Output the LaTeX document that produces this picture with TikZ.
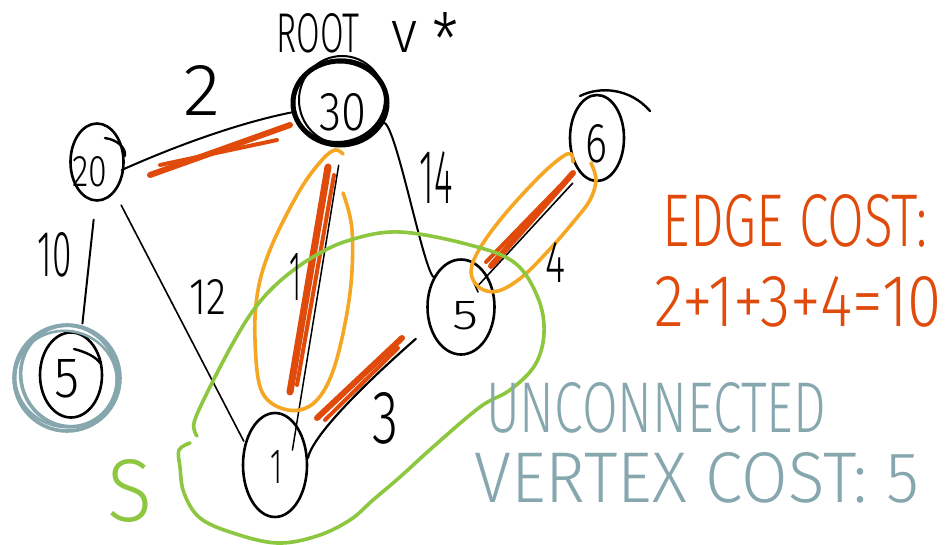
\documentclass[tikz,border=0pt]{standalone}
\usepackage{fontspec}
\setmainfont{Fira Sans Light}
\usepackage{graphicx}
\usetikzlibrary{shapes.geometric,calc}
\definecolor{sel}{HTML}{E04A0A}
\definecolor{hull}{HTML}{F5A623}
\definecolor{grn}{HTML}{8DC63F}
\definecolor{gry}{HTML}{86A7AE}
\newcommand\fitbox[3]{\resizebox{#1pt}{#2pt}{#3}}
\begin{document}
\begin{tikzpicture}[x=1pt,y=-1pt,
  vtx/.style={draw, ellipse, line width=2.6pt, inner sep=0pt},
  edge/.style={line width=2pt, line cap=round},
  pick/.style={draw=sel, line width=6pt, line cap=round},
  txt/.style={inner sep=0pt, anchor=center},
  hullst/.style={draw=hull, line width=3.6pt, line cap=round},
  grnst/.style={draw=grn, line width=3.6pt, line cap=round},
  gryst/.style={draw=gry, line width=3.6pt},
]
\fill[white] (0,0) rectangle (949,545);
\useasboundingbox (0,0) rectangle (949,545);

% vertices
\node[vtx, line width=5pt, minimum width=94pt, minimum height=84pt] (n30) at (340,103) {};
\draw[line width=2.6pt, rotate around={12:(340,103)}] (340,101) ellipse (46 and 41);
\draw[line width=2pt] (342,100) ellipse (43 and 44);
\node[vtx, minimum width=53pt, minimum height=77pt] (n20) at (97,162) {};
\node[vtx, minimum width=62pt, minimum height=85pt] (n5a) at (71,375) {};
\node[vtx, minimum width=64pt, minimum height=104pt] (n1) at (275,465) {};
\node[vtx, minimum width=67pt, minimum height=95pt] (n5b) at (461,307) {};
\node[vtx, minimum width=54pt, minimum height=86pt] (n6) at (597,138) {};

% vertex labels
\node[txt] (t30) at (343,112) {\fitbox{47}{37}{30}};
\node[txt] (t20) at (90,172) {\fitbox{35}{30}{20}};
\node[txt] (t5a) at (67,379) {\fitbox{25}{38}{5}};
\node[txt] (t1) at (276,467) {\fitbox{12}{33}{1}};
\node[txt] (t5b) at (465,316) {\fitbox{26}{28}{5}};
\node[txt] (t6) at (596,144) {\fitbox{22}{38}{6}};

% little tails of hand-drawn circles
\draw[line width=2.4pt, line cap=round] (580,96) .. controls (600,86) and (630,88) .. (650,111);
\draw[line width=2.4pt, line cap=round] (105,138) .. controls (118,140) and (126,148) .. (125,156);
\draw[line width=2.4pt, line cap=round] (74,349) .. controls (86,352) and (96,357) .. (100,363);

% grey highlight around unconnected vertex
\draw[gryst] (67,378) ellipse (53 and 53);
\draw[gryst, rotate around={20:(69,376)}] (69,376) ellipse (48 and 51);
\draw[gryst, line width=2.6pt, rotate around={-15:(66,379)}] (66,379) ellipse (51 and 48);

% edges
\draw[edge, shorten <=-3pt] (n20.-14) .. controls +(40,-18) and +(-60,12) .. (n30.191);
\draw[edge, line width=1.6pt, shorten <=14pt, shorten >=2pt] (n20.-60) -- (n1.144);
\draw[edge, shorten <=18pt, shorten >=10pt] (n20.-92) -- (n5a.76);
\draw[edge, line width=1.5pt, shorten <=18pt, shorten >=-26pt] (n30.-88) -- (n1.62);
\draw[edge, shorten <=4pt, shorten >=8pt] (n30.-33) .. controls +(12,-30) and +(-12,25) .. (n5b.120);
\draw[edge, line width=2.2pt] (n1.12) .. controls +(5,-25) and +(-40,35) .. ($(n5b.215)+(-14,10)$);
\draw[edge, line width=1.6pt, shorten <=-14pt, shorten >=12pt] (n5b.50) -- (n6.246);
\draw[edge, line width=1.6pt] (474,283) -- (478,292);

% selected (tree) edges
\draw[pick] (150,175) -- (290,125);
\draw[pick, line width=4pt] (160,165) -- (277,140);
\draw[pick, line width=7pt] (328,167) -- (290,392);
\draw[pick, line width=4pt] (334,175) -- (297,385);
\draw[pick] (317,418) -- (402,338);
\draw[pick, line width=4pt] (325,420) -- (398,348);
\draw[pick] (491,266) -- (573,173);
\draw[pick, line width=4pt] (486,262) -- (560,186);

% orange loops around the tree edges
\draw[hullst] plot[smooth, tension=0.6] coordinates {(343,193) (352,230) (350,293) (335,365) (315,402) (288,410) (262,392) (255,340) (258,290) (272,245) (300,190) (322,160) (335,150) (343,154)};
\draw[hullst] plot[smooth, tension=0.6] coordinates {(591,163) (596,180) (590,200) (575,220) (550,249) (522,277) (498,291) (480,288) (471,272) (480,248) (505,214) (540,176) (562,157) (571,154) (573,162)};

% green set S
\draw[grnst] plot[smooth, tension=0.6] coordinates {(197,436) (194,423) (207,393) (233,343) (255,308) (280,281) (313,257) (350,240) (400,232) (470,245) (515,263) (538,298) (544,333) (535,365) (510,390) (480,407) (433,447) (400,477) (373,500) (350,520) (317,536) (277,543) (233,533) (200,518) (184,493) (180,467) (179,450) (190,443)};
\node[txt, text=grn] (tS) at (130,491) {\fitbox{45}{62}{S}};

% edge labels
\node[txt] (l2) at (202,90) {\fitbox{37}{50}{2}};
\node[txt] (l10) at (55,255) {\fitbox{34}{44}{10}};
\node[txt] (l12) at (208,297) {\fitbox{37}{35}{12}};
\node[txt] (l1) at (295,277) {\fitbox{12}{47}{1}};
\node[txt] (l14) at (436,177) {\fitbox{33}{52}{14}};
\node[txt] (l3) at (385,418) {\fitbox{26}{51}{3}};
\node[txt] (l4) at (555,262) {\fitbox{20}{40}{4}};

% titles
\node[txt] (root) at (318,33) {\fitbox{83}{39}{ROOT}};
\node[txt] (rootv) at (404,37) {\fitbox{26}{31}{v}};
\node[txt] (roots) at (445,40) {\fitbox{26}{54}{*}};
\node[txt, text=sel] (ec1) at (795,221) {\fitbox{264}{52}{EDGE COST:}};
\node[txt, text=sel] (ec2) at (798,302) {\fitbox{287}{50}{2+1+3+4=10}};
\node[txt, text=gry] (uv1) at (656,408) {\fitbox{340}{50}{UNCONNECTED}};
\node[txt, text=gry] (uv2) at (697,478) {\fitbox{445}{50}{VERTEX COST: 5}};
\end{tikzpicture}
\end{document}
